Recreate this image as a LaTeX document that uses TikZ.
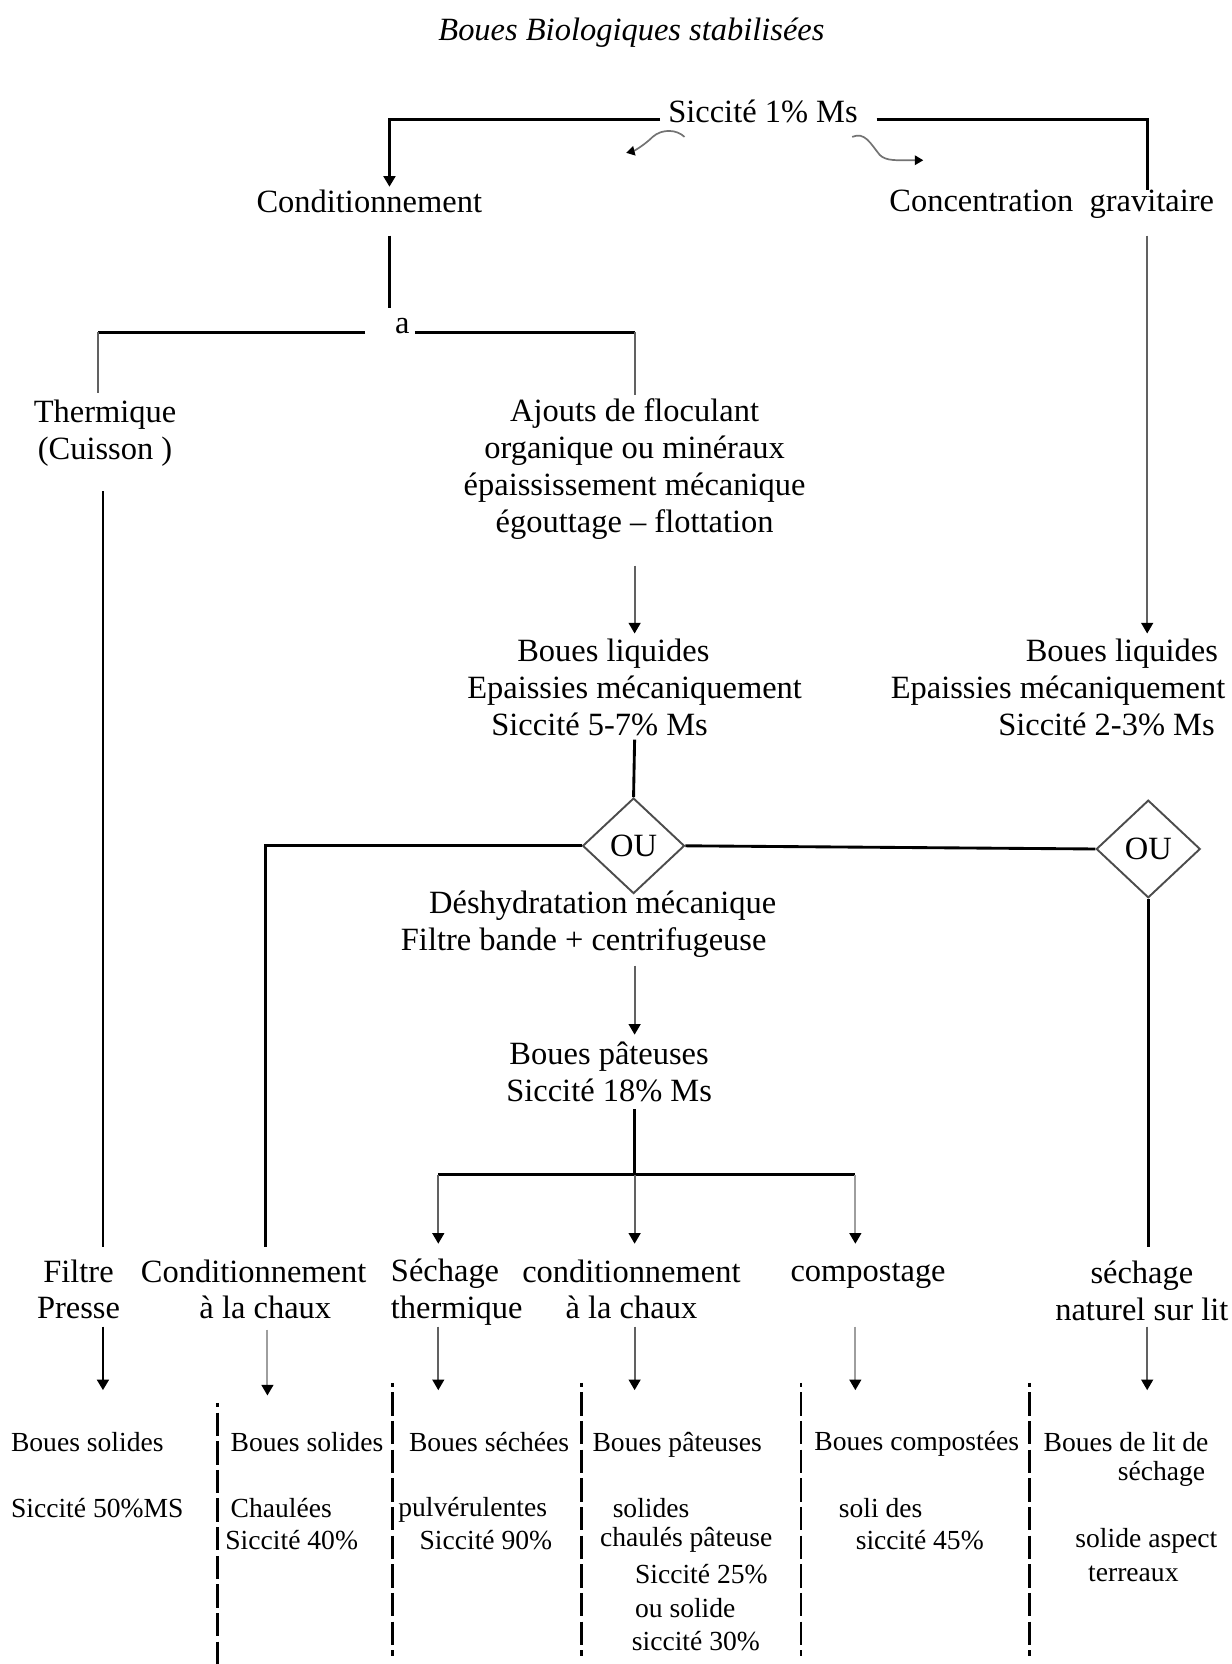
\documentclass[tikz,border=0pt]{standalone}
\usepackage{fontspec}
\setmainfont{Liberation Serif}
\usetikzlibrary{shapes.geometric,arrows.meta,calc}
\begin{document}
\begin{tikzpicture}[x=0.5pt,y=-0.5pt,
  txt/.style={inner sep=0pt, font=\fontsize{15.3}{17.4}\selectfont, align=center},
  sml/.style={inner sep=0pt, anchor=west, font=\fontsize{13}{15}\selectfont},
  blk/.style={line width=1.35pt, black},
  gry/.style={line width=1pt, black!62},
  lgry/.style={line width=1pt, black!38},
  tip/.style={-{Triangle[length=5pt,width=5.5pt,color=black]}},
  stip/.style={-{Triangle[length=4pt,width=4.5pt,color=black]}},
  squig/.style={line width=0.8pt, black!55},
  dsh/.style={line width=1.1pt, black, dash pattern=on 11pt off 2.5pt, dash phase=9pt},
  ou/.style={diamond, draw=black!70, line width=0.9pt, inner sep=0pt, aspect=1,
    font=\fontsize{15.3}{17.4}\selectfont}
]
\useasboundingbox (0,0) rectangle (1160,1568);

% ---------- nodes ----------
\node[txt, font=\fontsize{15.3}{17.4}\selectfont\itshape] (title) at (595,31) {Boues Biologiques stabilisées};
\node[txt] (sic) at (719,105) {Siccité 1\% Ms};
\node[txt] (cond) at (348,190) {Conditionnement};
\node[txt] (conc) at (991,192) {Concentration\ \ gravitaire};
\node[txt] (a) at (379,307) {a};
\node[txt] (therm) at (99,408) {Thermique\\(Cuisson )};
\node[txt] (ajouts) at (598,442) {Ajouts de floculant\\organique ou minéraux\\épaississement mécanique\\égouttage – flottation};
\node[txt] (bl1) at (598,648) {Boues liquides\hspace*{20pt}\\Epaissies mécaniquement\\Siccité 5-7\% Ms\hspace*{33pt}};
\node[txt, align=right] (bl2) at (997,648) {Boues liquides\hspace*{3.5pt}\\Epaissies mécaniquement\\Siccité 2-3\% Ms\hspace*{5pt}};
\node[ou, minimum width=48pt, minimum height=45pt] (d1) at (597,797) {OU};
\node[ou, minimum width=49pt, minimum height=46pt] (d2) at (1082,800) {OU};
\node[txt] (desh) at (550,871) {\hspace*{18pt}Déshydratation mécanique\\Filtre bande + centrifugeuse};
\node[txt] (bp) at (574,1010) {Boues pâteuses\\Siccité 18\% Ms};

\node[txt] (filtre) at (74,1215) {Filtre\\Presse};
\node[txt] (cch1) at (239,1215) {Conditionnement\\\hspace*{11pt}à la chaux};
\node[txt, align=left, anchor=west] (sech) at (368,1218) {Séchage\\thermique};
\node[txt] (cch2) at (595,1215) {conditionnement\\à la chaux};
\node[txt] (comp) at (818,1202) {compostage};
\node[txt] (snat) at (1076,1216) {séchage\\naturel sur lit};

\node[sml] (c1a) at (10,1359) {Boues solides};
\node[sml] (c1b) at (10,1421) {Siccité 50\%MS};
\node[sml] (c2a) at (217,1359) {Boues solides};
\node[sml] (c2b) at (217,1421) {Chaulées};
\node[sml] (c2c) at (212,1451) {Siccité 40\%};
\node[sml] (c3a) at (385,1359) {Boues séchées};
\node[sml] (c3b) at (375,1423) {pulvérulentes};
\node[sml] (c3c) at (395,1451) {Siccité 90\%};
\node[sml] (c4a) at (558,1361) {Boues pâteuses};
\node[sml] (c4b) at (577,1421) {solides};
\node[sml] (c4c) at (565,1451) {chaulés pâteuse};
\node[sml] (c4d) at (598,1483) {Siccité 25\%};
\node[sml] (c4e) at (598,1515) {ou solide};
\node[sml] (c4f) at (595,1546) {siccité 30\%};
\node[sml] (c5a) at (767,1361) {Boues compostées};
\node[sml] (c5b) at (790,1421) {soli des};
\node[sml] (c5c) at (806,1451) {siccité 45\%};
\node[sml] (c6a) at (983,1359) {Boues de lit de};
\node[sml] (c6b) at (1053,1389) {séchage};
\node[sml] (c6c) at (1013,1452) {solide aspect};
\node[sml] (c6d) at (1025,1483) {terreaux};

% ---------- connectors ----------
\draw[blk,tip] ($(sic.center)+(-97,8)$) -| ($(cond.center)+(19,-14)$);
\draw[blk] ($(sic.center)+(107,8)$) -| ($(conc.center)+(90,-13)$);

\draw[squig,stip] ($(sic.center)+(-74,24)$) .. controls +(-7,-7) and +(9,-8) .. ($(sic.center)+(-104,24)$) .. controls +(-7,7) and +(8,-2) .. ($(sic.center)+(-129,39)$);
\draw[squig,stip] ($(sic.center)+(84,24)$) .. controls +(12,-5) and +(-9,-11) .. ($(sic.center)+(110,41)$) .. controls +(6,6) and +(-25,0) .. ($(sic.center)+(151,46)$);

\draw[blk] ($(cond.center)+(19,32)$) -- ($(a.center)+(-12,-17)$);
\draw[blk] ($(a.center)+(-35,6)$) -- ($(therm.center)+(-7,-95)$);
\draw[gry] ($(therm.center)+(-7,-95)$) -- ($(therm.center)+(-7,-38)$);
\draw[blk] ($(a.center)+(12,6)$) -- ($(ajouts.center)+(0,-129)$);
\draw[gry] ($(ajouts.center)+(0,-129)$) -- ($(ajouts.center)+(0,-70)$);

\draw[blk] ($(therm.center)+(-2,55)$) -- ($(filtre.center)+(23,-40)$);
\draw[gry,tip] ($(ajouts.center)+(0,91)$) -- ($(bl1.center)+(0,-51)$);
\draw[gry,tip] ($(conc.center)+(90,30)$) -- ($(bl2.center)+(84,-51)$);

\draw[blk] ($(bl1.center)+(0,49)$) -- (d1.north);
\draw[blk] (d1.west) -| ($(cch1.center)+(11,-40)$);
\draw[blk] (d1.east) -- (d2.west);
\coordinate (snatTop) at ($(snat.center)+(0,-41)$);
\draw[blk] (d2.south) -- (d2.south |- snatTop);

\draw[gry,tip] ($(desh.center)+(48,39)$) -- ($(bp.center)+(24,-35)$);
\coordinate (J) at ($(bp.center)+(24,97)$);
\draw[blk] ($(bp.center)+(24,35)$) -- (J);
\draw[blk] ($(J)+(-185,0)$) -- ($(J)+(208,0)$);
\draw[gry,tip] ($(J)+(-185,0)$) -- ($(sech.west)+(45,-46)$);
\draw[gry,tip] (J) -- ($(cch2.center)+(3,-43)$);
\draw[lgry,tip] ($(J)+(208,0)$) -- ($(comp.center)+(-12,-30)$);

\draw[blk,tip] ($(filtre.center)+(23,35)$) -- ($(c1a.west)+(87,-49)$);
\draw[lgry,tip] ($(cch1.center)+(13,38)$) -- ($(c2a.west)+(35,-44)$);
\draw[gry,tip] ($(sech.west)+(45,32)$) -- ($(c3a.west)+(28,-49)$);
\draw[gry,tip] ($(cch2.center)+(3,35)$) -- ($(c4a.west)+(40,-51)$);
\draw[lgry,tip] ($(comp.center)+(-12,48)$) -- ($(c5a.west)+(39,-51)$);
\draw[gry,tip] ($(snat.center)+(5,34)$) -- ($(c6a.west)+(98,-49)$);

% ---------- dashed separators ----------
\draw[dsh, line width=1.4pt] (205,1322) -- (205,1568);
\draw[dsh] (370,1303) -- (370,1560);
\draw[dsh] (548,1303) -- (548,1560);
\draw[dsh] (755,1303) -- (755,1560);
\draw[dsh] (970,1303) -- (970,1560);
\end{tikzpicture}
\end{document}
